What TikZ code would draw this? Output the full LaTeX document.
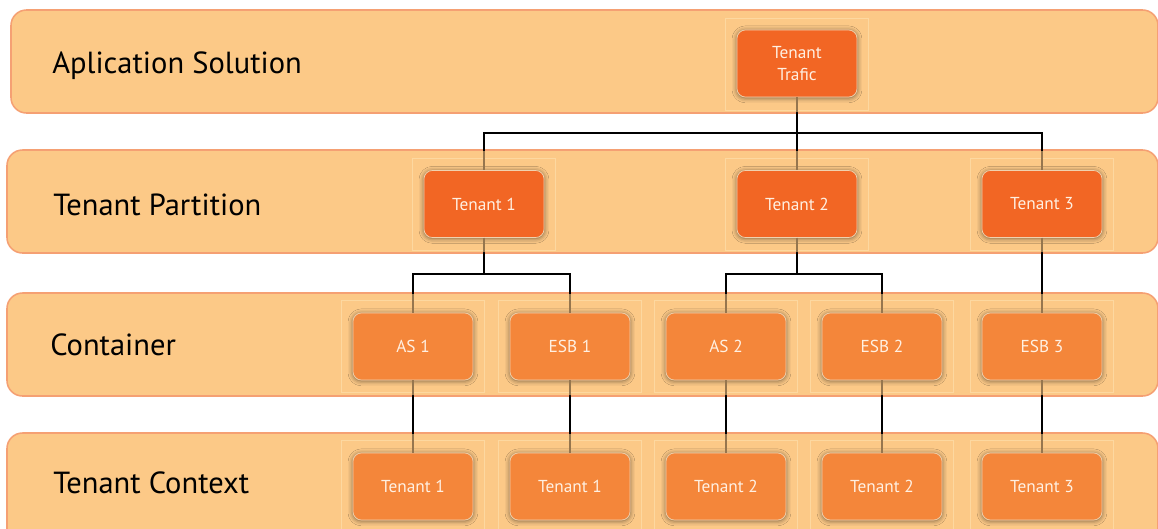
\documentclass[tikz,border=0pt]{standalone}
\usepackage{fontspec}
\setmainfont{PT Sans}
\usetikzlibrary{shadows.blur}
\definecolor{bandfill}{RGB}{252,201,135}
\definecolor{bandedge}{RGB}{245,160,115}
\definecolor{frameedge}{RGB}{253,216,160}
\definecolor{hotorange}{RGB}{242,102,36}
\definecolor{softorange}{RGB}{244,134,58}
\definecolor{boxedge}{RGB}{240,210,175}
\definecolor{boxtext}{RGB}{255,240,226}
\definecolor{wiredim}{RGB}{150,118,78}
\tikzset{
  band/.style={draw=bandedge, line width=1.1pt, fill=bandfill, rounded corners=11pt},
  bandlabel/.style={anchor=base west, font=\fontsize{21.7}{26}\selectfont, text=black, inner sep=0pt},
  frame/.style={draw=frameedge, line width=0.5pt, minimum width=3.575cm, minimum height=2.3cm, inner sep=0pt},
  unit/.style={draw=boxedge, line width=0.5pt, rounded corners=6pt, minimum width=3cm, minimum height=1.675cm,
    text=boxtext, font=\fontsize{12.3}{15}\selectfont, align=center,
    blur shadow={shadow xshift=0pt, shadow yshift=-0.6pt, shadow blur radius=3.5pt, shadow opacity=55}},
  upper/.style={unit, fill=hotorange},
  lower/.style={unit, fill=softorange},
  wire/.style={line width=1.4pt}
}
% every connector of the tree, in the colour given
\newcommand\treewires[1]{%
  \draw[wire, draw=#1] (traffic) -- (busA);
  \draw[wire, draw=#1] (busA) -| (t1);
  \draw[wire, draw=#1] (busA) -- (t2);
  \draw[wire, draw=#1] (busA) -| (t3);
  \draw[wire, draw=#1] (t1) -- (busB);
  \draw[wire, draw=#1] (busB) -| (as1);
  \draw[wire, draw=#1] (busB) -| (esb1);
  \draw[wire, draw=#1] (t2) -- (busC);
  \draw[wire, draw=#1] (busC) -| (as2);
  \draw[wire, draw=#1] (busC) -| (esb2);
  \draw[wire, draw=#1] (t3) -- (esb3);
  \draw[wire, draw=#1] (as1) -- (c1);
  \draw[wire, draw=#1] (esb1) -- (c2);
  \draw[wire, draw=#1] (as2) -- (c3);
  \draw[wire, draw=#1] (esb2) -- (c4);
  \draw[wire, draw=#1] (esb3) -- (c5);
}
\begin{document}
\begin{tikzpicture}[x=0.025cm, y=-0.025cm]
\clip (0,0) rectangle (1158,528);
\useasboundingbox (0,0) rectangle (1158,528);

% layer bands
\path[band] (11,10) rectangle (1158,113);
\path[band] (7,150) rectangle (1158,253);
\path[band] (7,293) rectangle (1158,396);
\path[band] (7,433) rectangle (1158,545);

% light frames behind the boxes
\foreach \x/\y in {797/64.5, 484/204, 797/204, 1042/204,
                   413/346.5, 570/346.5, 726/346.5, 882/346.5, 1042/346.5,
                   413/486.5, 570/486.5, 726/486.5, 882/486.5, 1042/486.5}
  \node[frame] at (\x,\y) {};

% layer names
\node[bandlabel] (lsol) at (52,73) {Aplication Solution};
\node[bandlabel] (lpart) at (53,215) {Tenant Partition};
\node[bandlabel] (lcont) at (50,355) {Container};
\node[bandlabel] (lctx) at (53,493) {Tenant Context};

% boxes
\node[upper] (traffic) at (797,63.5) {Tenant\\Trafic};
\node[upper] (t1) at (484,204) {Tenant 1};
\node[upper] (t2) at (797,204) {Tenant 2};
\node[upper] (t3) at (1042,204) {Tenant 3};

\node[lower] (as1) at (413,346.5) {AS 1};
\node[lower] (esb1) at (570,346.5) {ESB 1};
\node[lower] (as2) at (726,346.5) {AS 2};
\node[lower] (esb2) at (882,346.5) {ESB 2};
\node[lower] (esb3) at (1042,346.5) {ESB 3};

\node[lower] (c1) at (413,486.5) {Tenant 1};
\node[lower] (c2) at (570,486.5) {Tenant 1};
\node[lower] (c3) at (726,486.5) {Tenant 2};
\node[lower] (c4) at (882,486.5) {Tenant 2};
\node[lower] (c5) at (1042,486.5) {Tenant 3};

% branch points
\coordinate (busA) at (797,133);
\coordinate (busB) at (484,274);
\coordinate (busC) at (797,274);

% connectors: black between the bands, muted where they cross a band
\treewires{black}
\begin{scope}
  \clip (0,11) rectangle (1158,112)
        (0,151) rectangle (1158,252)
        (0,294) rectangle (1158,395)
        (0,434) rectangle (1158,545);
  \treewires{wiredim}
\end{scope}
\end{tikzpicture}
\end{document}
